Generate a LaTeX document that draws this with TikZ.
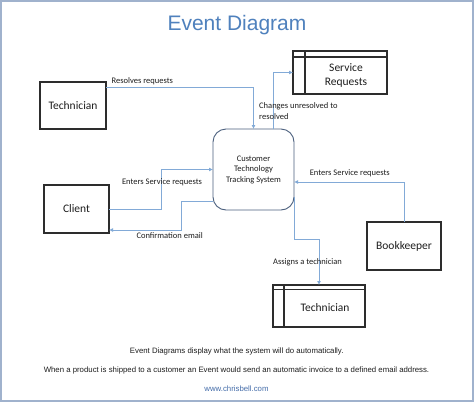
\documentclass[tikz,border=0pt]{standalone}
\usepackage{fontspec}
\setmainfont{Carlito}
\newfontfamily\arial{Liberation Sans}
\usetikzlibrary{arrows.meta,calc}
\definecolor{framecol}{RGB}{160,178,205}
\definecolor{titlecol}{RGB}{79,129,189}
\definecolor{linecol}{RGB}{130,170,215}
\definecolor{boxcol}{RGB}{45,45,45}
\definecolor{ctcol}{RGB}{75,95,125}
\definecolor{txtcol}{RGB}{30,30,30}
\definecolor{urlcol}{RGB}{70,110,170}
\tikzset{
  entity/.style={draw=boxcol, line width=1.1pt, rectangle, inner sep=0pt, outer sep=0pt,
    font=\fontsize{11.5}{14}\selectfont, text=txtcol},
  storebox/.style={draw=boxcol, line width=1.1pt, rectangle, inner sep=0pt, outer sep=0pt},
  storetext/.style={inner sep=0pt, align=center, font=\fontsize{11.5}{14}\selectfont, text=txtcol},
  process/.style={draw=ctcol, line width=0.9pt, rectangle, rounded corners=13pt, inner sep=0pt, outer sep=0pt,
    align=center, font=\fontsize{8.5}{10.5}\selectfont, text=txtcol},
  flow/.style={draw=linecol, line width=0.8pt, -{Latex[length=4pt,width=4pt]}},
  flowlabel/.style={inner sep=0pt, font=\fontsize{8.5}{10.2}\selectfont, text=txtcol},
  foot/.style={inner sep=0pt, font=\arial\fontsize{7.8}{10}\selectfont},
}
\begin{document}
\begin{tikzpicture}[x=1pt,y=-1pt]
\useasboundingbox (0,0) rectangle (474,402);
\fill[white] (0,0) rectangle (474,402);
\draw[framecol, line width=2.2pt] (1.1,1.1) rectangle (472.9,400.9);

\node[inner sep=0pt, text=titlecol, font=\arial\fontsize{21}{24}\selectfont] (title) at (237,25) {Event Diagram};

% entities
\node[entity, minimum width=66pt, minimum height=47pt] (tech1) at (73,105.5) {Technician};
\node[entity, minimum width=65pt, minimum height=48pt] (client) at (76.5,209) {Client};
\node[entity, minimum width=74pt, minimum height=48pt] (book) at (404,246) {Bookkeeper};

% process
\node[process, minimum width=81pt, minimum height=81pt] (ctts) at (253.5,169.5) {Customer\\Technology\\Tracking System};

% data stores
\node[storebox, minimum width=94pt, minimum height=43pt] (sr) at (340,72.5) {};
\draw[boxcol, line width=1.1pt] ($(sr.north west)+(12,0)$) -- ($(sr.south west)+(12,0)$);
\draw[boxcol, line width=1.1pt] ($(sr.north west)+(0,6)$) -- ($(sr.north east)+(0,6)$);
\node[storetext] (srt) at (346,75.3) {Service\\Requests};

\node[storebox, minimum width=92pt, minimum height=42pt] (ts) at (319,306) {};
\draw[boxcol, line width=1.1pt] ($(ts.north west)+(11,0)$) -- ($(ts.south west)+(11,0)$);
\draw[boxcol, line width=1.1pt] ($(ts.north west)+(0,4.5)$) -- ($(ts.north east)+(0,4.5)$);
\node[storetext] (tst) at (325,308) {Technician};

% connector points
\coordinate (p1) at ($(tech1.north east)+(0,5)$);
\coordinate (p2) at ($(ctts.north)+(19.5,0)$);
\coordinate (p3) at ($(ctts.west)+(0,31.5)$);
\coordinate (p4) at ($(client.east)+(0,21)$);
\coordinate (p5) at ($(ctts.east)+(0,12.5)$);
\coordinate (p6) at ($(ctts.east)+(0,27)$);

% connectors
\draw[flow] (p1) -| (ctts.north);
\draw[flow] (p2) |- (sr.west);
\draw[flow] (client.east) -- ++(52,0) |- (ctts.west);
\draw[flow] (p3) -- ++(-32,0) |- (p4);
\draw[flow] (book.north) |- (p5);
\draw[flow] (p6) -- ++(0,42.5) -| (ts.north);

% labels
\node[flowlabel, anchor=west] (l1) at (111.5,81) {Resolves requests};
\node[flowlabel, anchor=west, align=left] (l2) at (259,111) {Changes unresolved to\\resolved};
\node[flowlabel] (l3) at (162,182.7) {Enters Service requests};
\node[flowlabel] (l4) at (169.7,236) {Confirmation email};
\node[flowlabel] (l5) at (349.8,173.3) {Enters Service requests};
\node[flowlabel] (l6) at (307.5,262.3) {Assigns a technician};

% footer
\node[foot, text=txtcol] (f1) at (236.7,351) {Event Diagrams display what the system will do automatically.};
\node[foot, text=txtcol] (f2) at (236.5,370) {When a product is shipped to a customer an Event would send an automatic invoice to a defined email address.};
\node[foot, text=urlcol] (f3) at (236.5,389) {www.chrisbell.com};
\end{tikzpicture}
\end{document}
